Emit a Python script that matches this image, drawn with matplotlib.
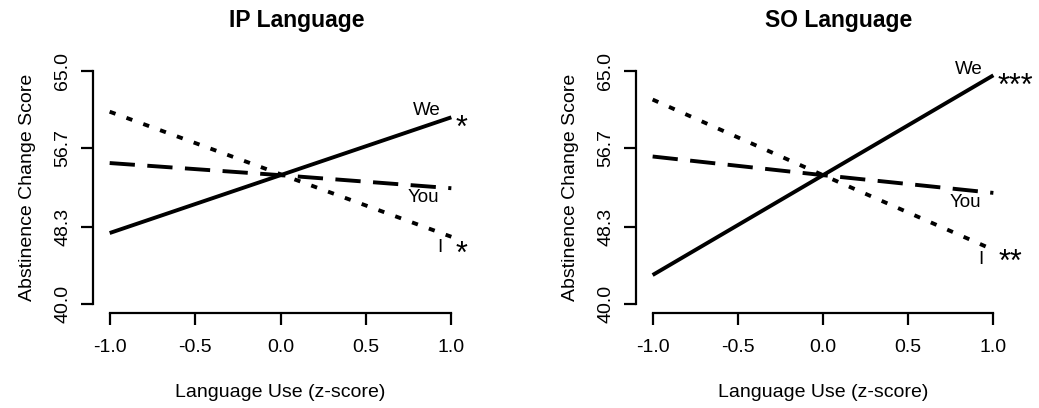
import numpy as np
import matplotlib.pyplot as plt

plt.rcParams['font.family'] = ['Liberation Sans', 'DejaVu Sans']

# language use (z-score) at the two ends
x = [-1.0, 0.0, 1.0]

# predicted abstinence change scores
ip_we = [47.6, 53.8, 60.0]
ip_you = [55.1, 53.8, 52.4]
ip_i = [60.6, 53.9, 47.2]

so_we = [43.1, 53.8, 64.5]
so_you = [55.8, 53.8, 51.9]
so_i = [61.9, 53.8, 45.8]

yticks = [40.0, 48.3, 56.7, 65.0]
ytick_labels = ['40.0', '48.3', '56.7', '65.0']
xticks = [-1.0, -0.5, 0.0, 0.5, 1.0]
xtick_labels = ['-1.0', '-0.5', '0.0', '0.5', '1.0']

fig = plt.figure(figsize=(10.39, 4.08), dpi=100)
ax1 = fig.add_axes([96/1039, 1-313.3/408, 369/1039, 252/408])
ax2 = fig.add_axes([639/1039, 1-313.3/408, 368/1039, 252/408])

def draw(ax, title, we, you, i, labels):
    ax.plot(x, we, color='black', lw=2.8, solid_capstyle='butt')
    l, = ax.plot(x, you, color='black', lw=2.8)
    l.set_dashes((6.5, 3.2))
    l, = ax.plot(x, i, color='black', lw=2.8)
    l.set_dashes((1.6, 3.0))
    ax.set_xlim(-1.08, 1.08)
    ax.set_ylim(39, 66)
    for s in ['top', 'right']:
        ax.spines[s].set_visible(False)
    ax.spines['left'].set_bounds(40, 65)
    ax.spines['bottom'].set_bounds(-1, 1)
    ax.spines['left'].set_position(('data', -1.1))
    ax.spines['bottom'].set_position(('data', 39))
    for s in ['left', 'bottom']:
        ax.spines[s].set_linewidth(1.6)
    ax.set_yticks(yticks)
    ax.set_yticklabels(ytick_labels, rotation=90, va='center')
    ax.set_xticks(xticks)
    ax.set_xticklabels(xtick_labels)
    ax.tick_params(axis='both', length=8.5, width=1.6, labelsize=14)
    ax.tick_params(axis='x', pad=10)
    ax.tick_params(axis='y', pad=7)
    ax.set_xlabel('Language Use (z-score)', fontsize=14, labelpad=20)
    ax.set_ylabel('Abstinence Change Score', fontsize=14, labelpad=13)
    ax.set_title(title, fontsize=16.5, fontweight='bold', x=0.543, pad=25)
    for txt, px, py, fs in labels:
        ax.text(px, py, txt, fontsize=fs, ha='center', va='center', clip_on=False)

draw(ax1, 'IP Language', ip_we, ip_you, ip_i,
     [('We', 0.858, 60.7, 13.5), ('You', 0.838, 51.4, 13.5), ('I', 0.935, 46.0, 13.5),
      ('*', 1.059, 58.8, 22), ('*', 1.059, 45.3, 22)])
draw(ax2, 'SO Language', so_we, so_you, so_i,
     [('We', 0.853, 65.1, 13.5), ('You', 0.834, 50.9, 13.5), ('I', 0.928, 44.8, 13.5),
      ('***', 1.13, 63.3, 22), ('**', 1.1, 44.4, 22)])

fig.savefig('out.png', dpi=100)
